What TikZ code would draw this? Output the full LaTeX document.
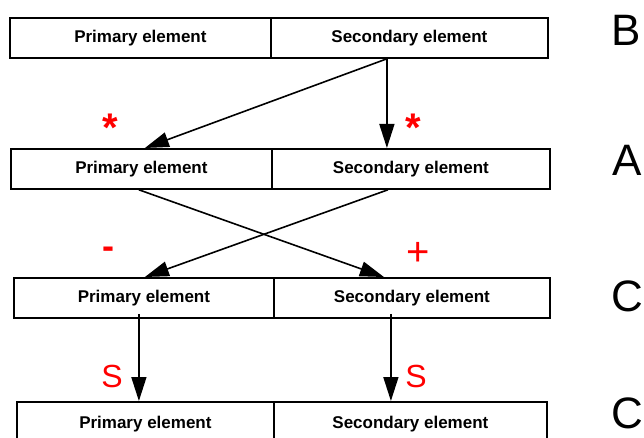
\documentclass[tikz,border=0pt]{standalone}
\usepackage{fontspec}
\setmainfont{Liberation Sans}
\usetikzlibrary{arrows.meta,calc}
\begin{document}
\begin{tikzpicture}[x=1pt,y=-1pt,
  half/.style={draw=black,line width=1.8pt,inner sep=0pt,anchor=north west,minimum height=40pt,font=\fontsize{17}{18}\selectfont\bfseries},
  arr/.style={line width=1.6pt,-{Triangle[length=24pt,width=15pt]}},
  redmark/.style={text=red,inner sep=0pt,font=\fontsize{32}{34}\selectfont},
  rowlbl/.style={inner sep=0pt,font=\fontsize{44}{48}\selectfont}]
\useasboundingbox (0,0) rectangle (644,438);
\clip (0,0) rectangle (644,438);
% rows
\node[half,minimum width=261pt] (r1p) at (9,17) {Primary element};
\node[half,minimum width=277pt] (r1s) at (270,17) {Secondary element};
\node[half,minimum width=261pt] (r2p) at (10,148) {Primary element};
\node[half,minimum width=278pt] (r2s) at (271,148) {Secondary element};
\node[half,minimum width=260pt] (r3p) at (13,277) {Primary element};
\node[half,minimum width=276pt] (r3s) at (273,277) {Secondary element};
\node[half,minimum width=257pt,minimum height=44pt] (r4p) at (16,401) {Primary element};
\node[half,minimum width=273pt,minimum height=44pt] (r4s) at (273,401) {Secondary element};
% connectors
\draw[arr] ([xshift=-22.5pt]r1s.south) -- ([xshift=3.5pt]r2p.north);
\draw[arr] ([xshift=-22.5pt]r1s.south) -- ([xshift=-24pt]r2s.north);
\draw[arr] ([xshift=-2.5pt]r2p.south) -- ([xshift=-28pt]r3s.north);
\draw[arr] ([xshift=-23pt]r2s.south) -- ([xshift=1pt]r3p.north);
\draw[arr] ([xshift=-5pt,yshift=5pt]r3p.south) -- ([xshift=-6.5pt]r4p.north);
\draw[arr] ([xshift=-21pt,yshift=5pt]r3s.south) -- ([xshift=-19.5pt]r4s.north);
% red marks
\node[redmark,font=\fontsize{40}{42}\selectfont\bfseries] (m1) at (110,128) {*};
\node[redmark,font=\fontsize{40}{42}\selectfont\bfseries] (m2) at (413,128) {*};
\node[redmark,font=\fontsize{36}{38}\selectfont\bfseries] (m3) at (108,253) {-};
\node[redmark,font=\fontsize{40}{42}\selectfont] (m4) at (418,254) {+};
\node[redmark] (m5) at (112,376) {S};
\node[redmark] (m6) at (416,376) {S};
% row letters
\node[rowlbl] (lB) at (626,30) {B};
\node[rowlbl] (lA) at (627,160) {A};
\node[rowlbl] (lC1) at (627,296) {C};
\node[rowlbl] (lC2) at (627,413) {C};
\end{tikzpicture}
\end{document}
